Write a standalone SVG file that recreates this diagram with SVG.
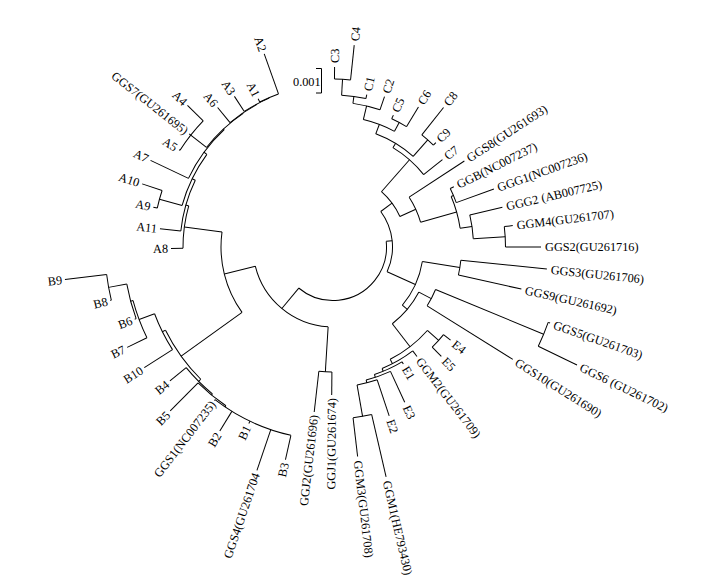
<svg xmlns="http://www.w3.org/2000/svg" width="710" height="588" viewBox="0 0 710 588">
<style>
.b{fill:none;stroke:#000;stroke-width:1}
text{font-family:"Liberation Serif","Times New Roman",serif;font-size:12.3px;fill:#000}
.l{text-anchor:end}
</style>
<rect width="710" height="588" fill="#fff"/>
<g transform="translate(333,247)">
<g id="connectors">
<circle class="b" r="53.5" transform="rotate(-6.05)" stroke-dasharray="126.80 3000"/>
<circle class="b" r="80" transform="rotate(93.5)" stroke-dasharray="101.23 3000"/>
<circle class="b" r="125" transform="rotate(90.5)" stroke-dasharray="13.09 3000"/>
<circle class="b" r="112" transform="rotate(144.3)" stroke-dasharray="84.84 3000"/>
<circle class="b" r="150" transform="rotate(179.5)" stroke-dasharray="42.93 3000"/>
<circle class="b" r="153" transform="rotate(186)" stroke-dasharray="53.01 3000"/>
<circle class="b" r="180" transform="rotate(192.5)" stroke-dasharray="18.22 3000"/>
<circle class="b" r="156.5" transform="rotate(195.4)" stroke-dasharray="57.09 3000"/>
<circle class="b" r="160" transform="rotate(205.4)" stroke-dasharray="60.74 3000"/>
<circle class="b" r="161" transform="rotate(218.2)" stroke-dasharray="50.30 3000"/>
<circle class="b" r="181" transform="rotate(212.3)" stroke-dasharray="37.59 3000"/>
<circle class="b" r="161.5" transform="rotate(230.4)" stroke-dasharray="32.13 3000"/>
<circle class="b" r="162" transform="rotate(236.8)" stroke-dasharray="28.27 3000"/>
<circle class="b" r="162.5" transform="rotate(243.2)" stroke-dasharray="20.42 3000"/>
<circle class="b" r="187" transform="rotate(135)" stroke-dasharray="60.71 3000"/>
<circle class="b" r="190.5" transform="rotate(147.4)" stroke-dasharray="40.23 3000"/>
<circle class="b" r="207" transform="rotate(154)" stroke-dasharray="39.74 3000"/>
<circle class="b" r="209.5" transform="rotate(160)" stroke-dasharray="35.83 3000"/>
<circle class="b" r="228" transform="rotate(166.5)" stroke-dasharray="26.26 3000"/>
<circle class="b" r="190" transform="rotate(129.4)" stroke-dasharray="37.14 3000"/>
<circle class="b" r="191.5" transform="rotate(124)" stroke-dasharray="36.10 3000"/>
<circle class="b" r="193" transform="rotate(102.6)" stroke-dasharray="84.55 3000"/>
<circle class="b" r="59.5" transform="rotate(-36.6)" stroke-dasharray="63.45 3000"/>
<circle class="b" r="73.5" transform="rotate(-48.75)" stroke-dasharray="31.11 3000"/>
<circle class="b" r="91" transform="rotate(-33.2)" stroke-dasharray="27.64 3000"/>
<circle class="b" r="128.5" transform="rotate(-23.15)" stroke-dasharray="33.08 3000"/>
<circle class="b" r="131" transform="rotate(-26.5)" stroke-dasharray="15.32 3000"/>
<circle class="b" r="140.5" transform="rotate(-13.2)" stroke-dasharray="24.03 3000"/>
<circle class="b" r="172.5" transform="rotate(-6.8)" stroke-dasharray="20.47 3000"/>
<circle class="b" r="116" transform="rotate(-58.9)" stroke-dasharray="41.10 3000"/>
<circle class="b" r="121" transform="rotate(-69.3)" stroke-dasharray="43.93 3000"/>
<circle class="b" r="143" transform="rotate(-51.6)" stroke-dasharray="15.47 3000"/>
<circle class="b" r="131" transform="rotate(-76.6)" stroke-dasharray="33.38 3000"/>
<circle class="b" r="141" transform="rotate(-65.4)" stroke-dasharray="16.73 3000"/>
<circle class="b" r="145" transform="rotate(-82.1)" stroke-dasharray="27.84 3000"/>
<circle class="b" r="152" transform="rotate(-86.75)" stroke-dasharray="24.54 3000"/>
<circle class="b" r="168" transform="rotate(-89.5)" stroke-dasharray="16.13 3000"/>
<circle class="b" r="90.5" transform="rotate(9.2)" stroke-dasharray="48.65 3000"/>
<circle class="b" r="128.5" transform="rotate(5.9)" stroke-dasharray="15.03 3000"/>
<circle class="b" r="97" transform="rotate(27.7)" stroke-dasharray="41.65 3000"/>
<circle class="b" r="111" transform="rotate(22.5)" stroke-dasharray="18.40 3000"/>
<circle class="b" r="228" transform="rotate(19.3)" stroke-dasharray="25.87 3000"/>
<circle class="b" r="126" transform="rotate(41.5)" stroke-dasharray="47.28 3000"/>
<circle class="b" r="141" transform="rotate(38.4)" stroke-dasharray="16.98 3000"/>
<circle class="b" r="131" transform="rotate(52.5)" stroke-dasharray="35.44 3000"/>
<circle class="b" r="134" transform="rotate(59)" stroke-dasharray="30.40 3000"/>
<circle class="b" r="137" transform="rotate(65.2)" stroke-dasharray="25.82 3000"/>
<circle class="b" r="140" transform="rotate(71.6)" stroke-dasharray="20.77 3000"/>
<circle class="b" r="172" transform="rotate(77)" stroke-dasharray="18.91 3000"/>
<line class="b" x1="53.5" x2="59.5" transform="rotate(-6.05)"/>
<line class="b" x1="53.5" x2="80" transform="rotate(129.75)"/>
<line class="b" x1="80" x2="125" transform="rotate(93.5)"/>
<line class="b" x1="80" x2="112" transform="rotate(166)"/>
<line class="b" x1="112" x2="150" transform="rotate(187.7)"/>
<line class="b" x1="150" x2="153" transform="rotate(195.9)"/>
<line class="b" x1="153" x2="156.5" transform="rotate(205.85)"/>
<line class="b" x1="156.5" x2="180" transform="rotate(195.4)"/>
<line class="b" x1="156.5" x2="160" transform="rotate(216.3)"/>
<line class="b" x1="160" x2="161" transform="rotate(227.15)"/>
<line class="b" x1="161" x2="181" transform="rotate(218.2)"/>
<line class="b" x1="161" x2="161.5" transform="rotate(236.1)"/>
<line class="b" x1="161.5" x2="162" transform="rotate(241.8)"/>
<line class="b" x1="162" x2="162.5" transform="rotate(246.8)"/>
<line class="b" x1="112" x2="187" transform="rotate(144.3)"/>
<line class="b" x1="187" x2="190.5" transform="rotate(153.6)"/>
<line class="b" x1="190.5" x2="207" transform="rotate(159.5)"/>
<line class="b" x1="207" x2="209.5" transform="rotate(165)"/>
<line class="b" x1="209.5" x2="228" transform="rotate(169.8)"/>
<line class="b" x1="187" x2="190" transform="rotate(135)"/>
<line class="b" x1="190" x2="191.5" transform="rotate(129.4)"/>
<line class="b" x1="191.5" x2="193" transform="rotate(124)"/>
<line class="b" x1="59.5" x2="73.5" transform="rotate(-36.6)"/>
<line class="b" x1="73.5" x2="91" transform="rotate(-24.5)"/>
<line class="b" x1="91" x2="128.5" transform="rotate(-15.8)"/>
<line class="b" x1="128.5" x2="131" transform="rotate(-23.15)"/>
<line class="b" x1="128.5" x2="140.5" transform="rotate(-8.4)"/>
<line class="b" x1="140.5" x2="172.5" transform="rotate(-3.4)"/>
<line class="b" x1="73.5" x2="116" transform="rotate(-48.75)"/>
<line class="b" x1="116" x2="121" transform="rotate(-58.9)"/>
<line class="b" x1="121" x2="143" transform="rotate(-48.5)"/>
<line class="b" x1="121" x2="131" transform="rotate(-69.3)"/>
<line class="b" x1="131" x2="141" transform="rotate(-62)"/>
<line class="b" x1="131" x2="145" transform="rotate(-76.6)"/>
<line class="b" x1="145" x2="152" transform="rotate(-82.1)"/>
<line class="b" x1="152" x2="168" transform="rotate(-86.75)"/>
<line class="b" x1="59.5" x2="90.5" transform="rotate(24.5)"/>
<line class="b" x1="90.5" x2="128.5" transform="rotate(9.2)"/>
<line class="b" x1="90.5" x2="97" transform="rotate(40)"/>
<line class="b" x1="97" x2="111" transform="rotate(27.7)"/>
<line class="b" x1="111" x2="228" transform="rotate(22.5)"/>
<line class="b" x1="97" x2="126" transform="rotate(52.3)"/>
<line class="b" x1="126" x2="141" transform="rotate(41.5)"/>
<line class="b" x1="126" x2="131" transform="rotate(63)"/>
<line class="b" x1="131" x2="134" transform="rotate(68)"/>
<line class="b" x1="134" x2="137" transform="rotate(72)"/>
<line class="b" x1="137" x2="140" transform="rotate(76)"/>
<line class="b" x1="140" x2="172" transform="rotate(80.1)"/>
<line class="b" x1="168" x2="180" transform="rotate(-89.5)"/>
<line class="b" x1="168" x2="203" transform="rotate(-84)"/>
<line class="b" x1="152" x2="156" transform="rotate(-77.5)"/>
<line class="b" x1="145" x2="159" transform="rotate(-71.1)"/>
<line class="b" x1="141" x2="145" transform="rotate(-65.4)"/>
<line class="b" x1="141" x2="164" transform="rotate(-58.6)"/>
<line class="b" x1="143" x2="178" transform="rotate(-51.6)"/>
<line class="b" x1="143" x2="146.5" transform="rotate(-45.4)"/>
<line class="b" x1="116" x2="140" transform="rotate(-38.6)"/>
<line class="b" x1="91" x2="157" transform="rotate(-33.2)"/>
<line class="b" x1="131" x2="135" transform="rotate(-26.5)"/>
<line class="b" x1="131" x2="171" transform="rotate(-19.8)"/>
<line class="b" x1="140.5" x2="174" transform="rotate(-13.2)"/>
<line class="b" x1="172.5" x2="181" transform="rotate(-6.8)"/>
<line class="b" x1="172.5" x2="208" transform="rotate(0)"/>
<line class="b" x1="128.5" x2="215" transform="rotate(5.9)"/>
<line class="b" x1="128.5" x2="193" transform="rotate(12.6)"/>
<line class="b" x1="228" x2="230" transform="rotate(19.3)"/>
<line class="b" x1="228" x2="271" transform="rotate(25.8)"/>
<line class="b" x1="111" x2="212" transform="rotate(32)"/>
<line class="b" x1="141" x2="150" transform="rotate(38.4)"/>
<line class="b" x1="141" x2="154" transform="rotate(45.3)"/>
<line class="b" x1="131" x2="138" transform="rotate(52.5)"/>
<line class="b" x1="134" x2="136.5" transform="rotate(59)"/>
<line class="b" x1="137" x2="171" transform="rotate(65.2)"/>
<line class="b" x1="140" x2="178" transform="rotate(71.6)"/>
<line class="b" x1="172" x2="236" transform="rotate(77)"/>
<line class="b" x1="172" x2="211" transform="rotate(83.3)"/>
<line class="b" x1="125" x2="148" transform="rotate(90.5)"/>
<line class="b" x1="125" x2="166" transform="rotate(96.5)"/>
<line class="b" x1="193" x2="218" transform="rotate(102.6)"/>
<line class="b" x1="193" x2="236" transform="rotate(108.8)"/>
<line class="b" x1="193" x2="195.5" transform="rotate(115.5)"/>
<line class="b" x1="193" x2="216" transform="rotate(121.6)"/>
<line class="b" x1="193" x2="194" transform="rotate(127.7)"/>
<line class="b" x1="191.5" x2="231" transform="rotate(134.8)"/>
<line class="b" x1="190" x2="211" transform="rotate(140.6)"/>
<line class="b" x1="190.5" x2="224" transform="rotate(147.4)"/>
<line class="b" x1="207" x2="229" transform="rotate(154)"/>
<line class="b" x1="209.5" x2="211" transform="rotate(160)"/>
<line class="b" x1="228" x2="229" transform="rotate(166.5)"/>
<line class="b" x1="228" x2="270" transform="rotate(173.1)"/>
<line class="b" x1="150" x2="162" transform="rotate(179.5)"/>
<line class="b" x1="153" x2="174" transform="rotate(186)"/>
<line class="b" x1="180" x2="184" transform="rotate(192.5)"/>
<line class="b" x1="180" x2="201" transform="rotate(198.3)"/>
<line class="b" x1="160" x2="202" transform="rotate(205.4)"/>
<line class="b" x1="181" x2="182" transform="rotate(212.3)"/>
<line class="b" x1="181" x2="183" transform="rotate(218.2)"/>
<line class="b" x1="181" x2="203" transform="rotate(224.2)"/>
<line class="b" x1="161.5" x2="181" transform="rotate(230.4)"/>
<line class="b" x1="162" x2="180" transform="rotate(236.8)"/>
<line class="b" x1="162.5" x2="166" transform="rotate(243.2)"/>
<line class="b" x1="162.5" x2="205" transform="rotate(250.4)"/>
</g>
<g id="leaf-C3"><text transform="rotate(-89.5) translate(184,0)" dy="0.35em">C3</text></g>
<g id="leaf-C4"><text transform="rotate(-84) translate(207,0)" dy="0.35em">C4</text></g>
<g id="leaf-C1"><text transform="rotate(-77.5) translate(160,0)" dy="0.35em">C1</text></g>
<g id="leaf-C2"><text transform="rotate(-71.1) translate(163,0)" dy="0.35em">C2</text></g>
<g id="leaf-C5"><text transform="rotate(-65.4) translate(149,0)" dy="0.35em">C5</text></g>
<g id="leaf-C6"><text transform="rotate(-58.6) translate(168,0)" dy="0.35em">C6</text></g>
<g id="leaf-C8"><text transform="rotate(-51.6) translate(182,0)" dy="0.35em">C8</text></g>
<g id="leaf-C9"><text transform="rotate(-45.4) translate(150,0)" dy="0.35em">C9</text></g>
<g id="leaf-C7"><text transform="rotate(-38.6) translate(144,0)" dy="0.35em">C7</text></g>
<g id="leaf-GGS8"><text transform="rotate(-33.2) translate(161,0)" dy="0.35em">GGS8(GU261693)</text></g>
<g id="leaf-GGB"><text transform="rotate(-26.5) translate(139,0)" dy="0.35em">GGB(NC007237)</text></g>
<g id="leaf-GGG1"><text transform="rotate(-19.8) translate(175,0)" dy="0.35em">GGG1(NC007236)</text></g>
<g id="leaf-GGG2"><text transform="rotate(-13.2) translate(178,0)" dy="0.35em">GGG2 (AB007725)</text></g>
<g id="leaf-GGM4"><text transform="rotate(-6.8) translate(185,0)" dy="0.35em">GGM4(GU261707)</text></g>
<g id="leaf-GGS2"><text transform="rotate(0) translate(212,0)" dy="0.35em">GGS2(GU261716)</text></g>
<g id="leaf-GGS3"><text transform="rotate(5.9) translate(219,0)" dy="0.35em">GGS3(GU261706)</text></g>
<g id="leaf-GGS9"><text transform="rotate(12.6) translate(197,0)" dy="0.35em">GGS9(GU261692)</text></g>
<g id="leaf-GGS5"><text transform="rotate(19.3) translate(234,0)" dy="0.35em">GGS5(GU261703)</text></g>
<g id="leaf-GGS6"><text transform="rotate(25.8) translate(275,0)" dy="0.35em">GGS6 (GU261702)</text></g>
<g id="leaf-GGS10"><text transform="rotate(32) translate(216,0)" dy="0.35em">GGS10(GU261690)</text></g>
<g id="leaf-E4"><text transform="rotate(38.4) translate(154,0)" dy="0.35em">E4</text></g>
<g id="leaf-E5"><text transform="rotate(45.3) translate(158,0)" dy="0.35em">E5</text></g>
<g id="leaf-GGM2"><text transform="rotate(52.5) translate(141,0)" dy="0.35em">GGM2(GU261709)</text></g>
<g id="leaf-E1"><text transform="rotate(59) translate(140,0)" dy="0.35em">E1</text></g>
<g id="leaf-E3"><text transform="rotate(65.2) translate(175,0)" dy="0.35em">E3</text></g>
<g id="leaf-E2"><text transform="rotate(71.6) translate(182,0)" dy="0.35em">E2</text></g>
<g id="leaf-GGM1"><text transform="rotate(77) translate(240,0)" dy="0.35em">GGM1(HE793430)</text></g>
<g id="leaf-GGM3"><text transform="rotate(83.3) translate(215,0)" dy="0.35em">GGM3(GU261708)</text></g>
<g id="leaf-GGJ1"><text class="l" transform="rotate(90.5) translate(151,0) rotate(180)" dy="0.35em">GGJ1(GU261674)</text></g>
<g id="leaf-GGJ2"><text class="l" transform="rotate(96.5) translate(169,0) rotate(180)" dy="0.35em">GGJ2(GU261696)</text></g>
<g id="leaf-B3"><text class="l" transform="rotate(102.6) translate(221,0) rotate(180)" dy="0.35em">B3</text></g>
<g id="leaf-GGS4"><text class="l" transform="rotate(108.8) translate(239,0) rotate(180)" dy="0.35em">GGS4(GU261704</text></g>
<g id="leaf-B1"><text class="l" transform="rotate(115.5) translate(198.5,0) rotate(180)" dy="0.35em">B1</text></g>
<g id="leaf-B2"><text class="l" transform="rotate(121.6) translate(219,0) rotate(180)" dy="0.35em">B2</text></g>
<g id="leaf-GGS1"><text class="l" transform="rotate(127.7) translate(196,0) rotate(180)" dy="0.35em">GGS1(NC007235)</text></g>
<g id="leaf-B5"><text class="l" transform="rotate(134.8) translate(234,0) rotate(180)" dy="0.35em">B5</text></g>
<g id="leaf-B4"><text class="l" transform="rotate(140.6) translate(214,0) rotate(180)" dy="0.35em">B4</text></g>
<g id="leaf-B10"><text class="l" transform="rotate(147.4) translate(227,0) rotate(180)" dy="0.35em">B10</text></g>
<g id="leaf-B7"><text class="l" transform="rotate(154) translate(232,0) rotate(180)" dy="0.35em">B7</text></g>
<g id="leaf-B6"><text class="l" transform="rotate(160) translate(214,0) rotate(180)" dy="0.35em">B6</text></g>
<g id="leaf-B8"><text class="l" transform="rotate(166.5) translate(232,0) rotate(180)" dy="0.35em">B8</text></g>
<g id="leaf-B9"><text class="l" transform="rotate(173.1) translate(273,0) rotate(180)" dy="0.35em">B9</text></g>
<g id="leaf-A8"><text class="l" transform="rotate(179.5) translate(165,0) rotate(180)" dy="0.35em">A8</text></g>
<g id="leaf-A11"><text class="l" transform="rotate(186) translate(177,0) rotate(180)" dy="0.35em">A11</text></g>
<g id="leaf-A9"><text class="l" transform="rotate(192.5) translate(187,0) rotate(180)" dy="0.35em">A9</text></g>
<g id="leaf-A10"><text class="l" transform="rotate(198.3) translate(204,0) rotate(180)" dy="0.35em">A10</text></g>
<g id="leaf-A7"><text class="l" transform="rotate(205.4) translate(205,0) rotate(180)" dy="0.35em">A7</text></g>
<g id="leaf-A5"><text class="l" transform="rotate(212.3) translate(185,0) rotate(180)" dy="0.35em">A5</text></g>
<g id="leaf-GGS7"><text class="l" transform="rotate(218.2) translate(186,0) rotate(180)" dy="0.35em">GGS7(GU261695)</text></g>
<g id="leaf-A4"><text class="l" transform="rotate(224.2) translate(206,0) rotate(180)" dy="0.35em">A4</text></g>
<g id="leaf-A6"><text class="l" transform="rotate(230.4) translate(184,0) rotate(180)" dy="0.35em">A6</text></g>
<g id="leaf-A3"><text class="l" transform="rotate(236.8) translate(183,0) rotate(180)" dy="0.35em">A3</text></g>
<g id="leaf-A1"><text class="l" transform="rotate(243.2) translate(169,0) rotate(180)" dy="0.35em">A1</text></g>
<g id="leaf-A2"><text class="l" transform="rotate(250.4) translate(208,0) rotate(180)" dy="0.35em">A2</text></g>
</g>
<g id="scale-bar">
<path class="b" d="M316,68.5 H321.5 V93 H316"/>
<text x="293" y="86">0.001</text>
</g>
</svg>
